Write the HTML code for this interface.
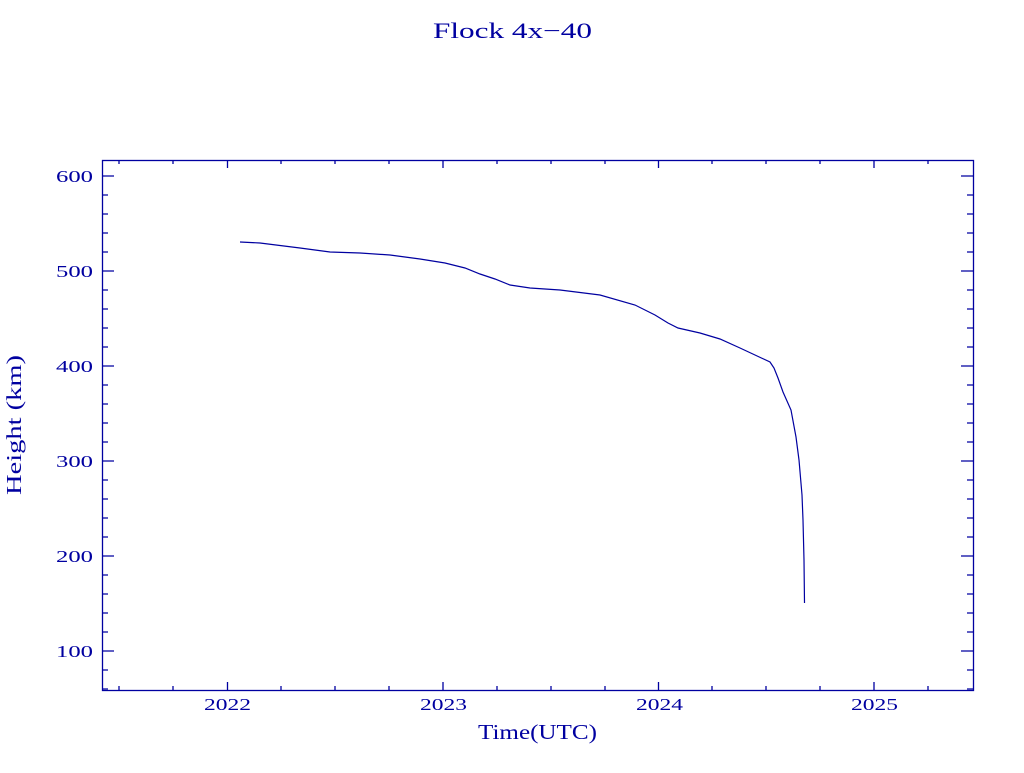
<!DOCTYPE html>
<html><head><meta charset="utf-8"><style>
body{margin:0;background:#fff;}
svg text{font-family:"Liberation Serif",serif;fill:#0000a0;}
</style></head><body>
<svg width="1024" height="768" xmlns="http://www.w3.org/2000/svg">
<rect width="1024" height="768" fill="#fff"/>
<text x="433" y="38" font-size="22" textLength="159" lengthAdjust="spacingAndGlyphs">Flock 4x−40</text>
<g stroke="#0000a0" stroke-width="1.3" fill="none">
<rect x="102.5" y="160.5" width="871" height="530"/>
<path d="M102 176h12M973 176h-12M102 271h12M973 271h-12M102 366h12M973 366h-12M102 461h12M973 461h-12M102 556h12M973 556h-12M102 651h12M973 651h-12
M102 195h6M973 195h-6M102 214h6M973 214h-6M102 233h6M973 233h-6M102 252h6M973 252h-6
M102 290h6M973 290h-6M102 309h6M973 309h-6M102 328h6M973 328h-6M102 347h6M973 347h-6
M102 385h6M973 385h-6M102 404h6M973 404h-6M102 423h6M973 423h-6M102 442h6M973 442h-6
M102 480h6M973 480h-6M102 499h6M973 499h-6M102 518h6M973 518h-6M102 537h6M973 537h-6
M102 575h6M973 575h-6M102 594h6M973 594h-6M102 613h6M973 613h-6M102 632h6M973 632h-6
M102 670h6M973 670h-6M102 689h6M973 689h-6
M227.5 690v-8M227.5 160v8M443 690v-8M443 160v8M658.5 690v-8M658.5 160v8M874 690v-8M874 160v8
M119 690v-4M119 160v4M173 690v-4M173 160v4M281 690v-4M281 160v4M335 690v-4M335 160v4M389 690v-4M389 160v4
M497 690v-4M497 160v4M551 690v-4M551 160v4M605 690v-4M605 160v4M712 690v-4M712 160v4M766 690v-4M766 160v4M820 690v-4M820 160v4
M928 690v-4M928 160v4"/>
<path stroke-width="1.2" d="M240 242L260 243L300 248L330 252L360 253L390 255L420 259L445 263L465 268L480 274L495 279L510 285L530 288L560 290L600 295L635 305L655 315L668 323L678 328L700 333L720 339L740 348L755 355L770 362L774 368L778 378L783 392L791 410L796 437L799 460L802 495L803 520L804 560L804.5 603"/>
</g>
<g font-size="17">
<text x="56" y="182" textLength="37" lengthAdjust="spacingAndGlyphs">600</text>
<text x="56" y="277" textLength="37" lengthAdjust="spacingAndGlyphs">500</text>
<text x="56" y="372" textLength="37" lengthAdjust="spacingAndGlyphs">400</text>
<text x="56" y="467" textLength="37" lengthAdjust="spacingAndGlyphs">300</text>
<text x="56" y="562" textLength="37" lengthAdjust="spacingAndGlyphs">200</text>
<text x="56" y="657" textLength="37" lengthAdjust="spacingAndGlyphs">100</text>
<text x="204" y="710" textLength="47" lengthAdjust="spacingAndGlyphs">2022</text>
<text x="420" y="710" textLength="47" lengthAdjust="spacingAndGlyphs">2023</text>
<text x="636" y="710" textLength="47" lengthAdjust="spacingAndGlyphs">2024</text>
<text x="851" y="710" textLength="47" lengthAdjust="spacingAndGlyphs">2025</text>
</g>
<text x="478" y="739" font-size="21" textLength="119" lengthAdjust="spacingAndGlyphs">Time(UTC)</text>
<text transform="translate(21,495) rotate(-90)" font-size="21" textLength="140" lengthAdjust="spacingAndGlyphs">Height (km)</text>
</svg>
</body></html>
